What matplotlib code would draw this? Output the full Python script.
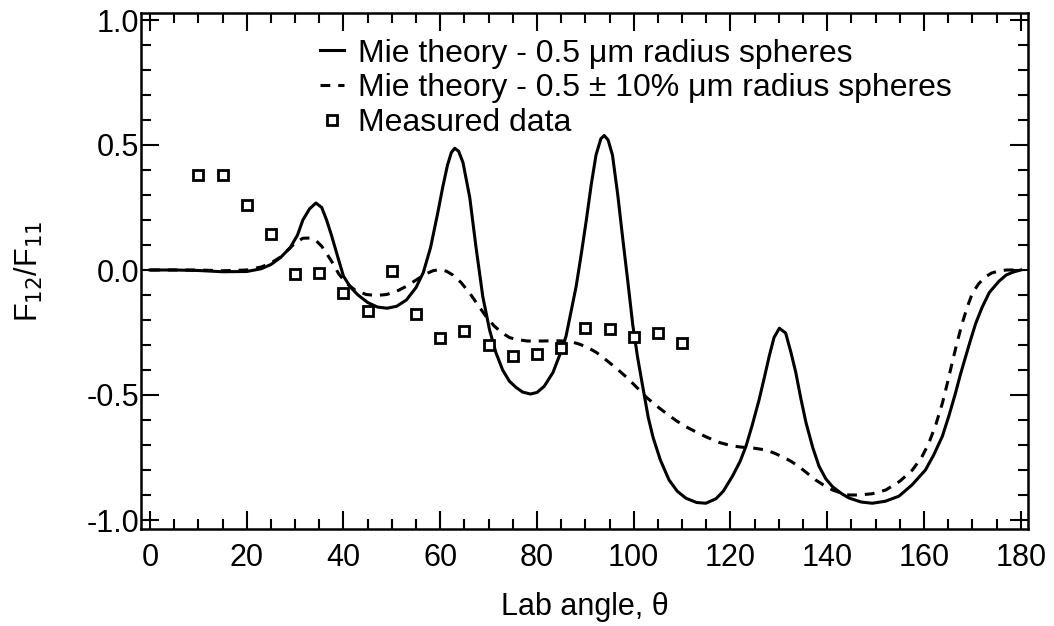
import matplotlib
matplotlib.use("Agg")
import matplotlib.pyplot as plt
from matplotlib.ticker import MultipleLocator

plt.rcParams['font.family'] = ['Liberation Sans', 'DejaVu Sans']

# Mie theory - 0.5 um radius spheres (solid)
theta_solid = [0, 5, 10, 15, 20, 23, 25, 27, 29, 30.5, 31.6, 33, 34.3, 35.5, 36.5, 37.5,
               39, 40, 41.5, 43, 45, 47, 49, 51, 53, 55, 56.5, 58, 59.5, 60.5, 61.5, 62.3,
               63, 63.8, 64.7, 65.5, 66.1, 67.4, 68.8, 70.2, 71.5, 72.9, 74.3, 75.7, 77,
               78.6, 80, 81.5, 83.3, 84.7, 86, 87, 88.1, 89.2, 90.2, 91.2, 92.2, 93.2, 93.9,
               94.7, 95.6, 96.7, 97.7, 98.8, 99.8, 100.8, 101.8, 103, 104, 105.5, 107.3,
               109, 110.8, 113, 114.9, 117, 118.5, 120.4, 122, 123.2, 124.5, 125.9, 127,
               128, 129, 130.1, 131.4, 132.5, 133.5, 134.5, 135.6, 137, 138.3, 139.7, 141.1,
               143, 144.5, 147, 149.3, 152, 154.8, 157.5, 160.3, 162, 163.8, 165.2, 166.5,
               167.5, 168.6, 169.7, 170.7, 172, 173.5, 175.5, 177, 178.5, 180]
f_solid = [0, 0, -0.002, -0.007, -0.006, 0.005, 0.022, 0.05, 0.09, 0.14, 0.2, 0.245, 0.268,
           0.25, 0.2, 0.14, 0.04, -0.025, -0.07, -0.1, -0.13, -0.148, -0.153, -0.145, -0.12,
           -0.07, -0.01, 0.09, 0.23, 0.33, 0.42, 0.47, 0.487, 0.475, 0.43, 0.35, 0.29, 0.09,
           -0.107, -0.24, -0.33, -0.4, -0.445, -0.47, -0.488, -0.496, -0.49, -0.465, -0.41,
           -0.34, -0.265, -0.17, -0.065, 0.07, 0.2, 0.34, 0.46, 0.525, 0.538, 0.52, 0.46,
           0.3, 0.13, -0.05, -0.22, -0.35, -0.46, -0.59, -0.67, -0.76, -0.84, -0.885,
           -0.913, -0.93, -0.933, -0.915, -0.885, -0.825, -0.765, -0.705, -0.62, -0.52,
           -0.43, -0.345, -0.27, -0.233, -0.252, -0.33, -0.41, -0.51, -0.61, -0.71, -0.785,
           -0.835, -0.867, -0.895, -0.912, -0.928, -0.933, -0.925, -0.905, -0.86, -0.8,
           -0.74, -0.665, -0.58, -0.493, -0.42, -0.347, -0.275, -0.213, -0.15, -0.09,
           -0.045, -0.02, -0.008, 0]

# Mie theory - 0.5 +/- 10% um radius spheres (dashed)
theta_dash = [0, 10, 15, 20, 23, 25, 27, 28.5, 30, 31.6, 33, 34.3, 35.5, 36.7, 37.8, 39,
              40.6, 42.5, 44.7, 46.8, 48.9, 51, 53, 55, 57.1, 58.5, 59.9, 61.3, 62.6, 64.3,
              66.1, 67.8, 69.5, 71.2, 72.9, 74.3, 75.7, 78, 81, 84, 86.7, 88.5, 90.2, 92.3,
              94.3, 96.4, 98.4, 100.5, 102.5, 104.6, 106.7, 108.8, 110.8, 112.9, 114.9,
              117.7, 120, 122, 125, 127.3, 129, 130.7, 132.5, 134.2, 136, 137.6, 139.4,
              141.1, 143, 144.5, 146.6, 149.3, 152.1, 155, 157.6, 159.5, 161, 162.5, 163.8,
              164.8, 165.8, 166.8, 167.9, 169, 170, 171.3, 172.7, 174, 175.5, 177, 180]
f_dash = [0, 0, -0.003, 0.0, 0.012, 0.028, 0.052, 0.08, 0.108, 0.127, 0.128, 0.118, 0.095,
          0.06, 0.027, -0.015, -0.053, -0.082, -0.098, -0.102, -0.098, -0.085, -0.065,
          -0.04, -0.015, -0.003, 0.002, -0.005, -0.02, -0.05, -0.093, -0.14, -0.187,
          -0.225, -0.253, -0.27, -0.278, -0.284, -0.284, -0.283, -0.285, -0.295, -0.307,
          -0.33, -0.36, -0.393, -0.427, -0.467, -0.507, -0.542, -0.573, -0.603, -0.627,
          -0.648, -0.667, -0.69, -0.702, -0.708, -0.713, -0.72, -0.732, -0.747, -0.765,
          -0.787, -0.815, -0.84, -0.862, -0.88, -0.893, -0.9, -0.9, -0.895, -0.88, -0.845,
          -0.8, -0.75, -0.693, -0.615, -0.533, -0.455, -0.373, -0.293, -0.213, -0.145,
          -0.093, -0.055, -0.027, -0.012, -0.004, 0, 0]

# Measured data
theta_meas = [10, 15, 20, 25, 30, 35, 40, 45, 50, 55, 60, 65, 70, 75, 80, 85, 90, 95, 100, 105, 110]
f_meas = [0.38, 0.38, 0.26, 0.143, -0.017, -0.013, -0.093, -0.163, -0.004, -0.176, -0.273,
          -0.243, -0.3, -0.344, -0.336, -0.311, -0.231, -0.236, -0.267, -0.251, -0.292]

labels = ['Mie theory - 0.5 μm radius spheres',
          'Mie theory - 0.5 ± 10% μm radius spheres',
          'Measured data']

fig = plt.figure(figsize=(10.54, 6.26), dpi=100)
ax = fig.add_axes([141/1054, 1-529/626, (1028-141)/1054, (529-13)/626])

ax.plot(theta_solid, f_solid, color='black', lw=2.2, label=labels[0])
ax.plot(theta_dash, f_dash, color='black', lw=2.2, ls=(0, (3.2, 2.6)), label=labels[1])
ax.plot(theta_meas, f_meas, ls='none', marker='s', ms=7.5, mfc='white', mec='black',
        mew=2.0, label=labels[2])

ax.set_xlim(-1.86, 181.5)
ax.set_ylim(-1.036, 1.028)
ax.xaxis.set_major_locator(MultipleLocator(20))
ax.xaxis.set_minor_locator(MultipleLocator(5))
ax.yaxis.set_major_locator(MultipleLocator(0.5))
ax.yaxis.set_minor_locator(MultipleLocator(0.1))
ax.set_yticks([-1.0, -0.5, 0.0, 0.5, 1.0])
ax.set_yticklabels(['-1.0', '-0.5', '0.0', '0.5', '1.0'])
ax.tick_params(which='both', direction='in', top=True, right=True, labelsize=22,
               width=1.5, color='black')
ax.tick_params(which='major', length=13)
ax.tick_params(which='minor', length=7)
ax.tick_params(axis='x', which='major', pad=10)
ax.tick_params(axis='y', which='major', pad=1)
for s in ax.spines.values():
    s.set_linewidth(1.8)

ax.set_xlabel('Lab angle, θ', fontsize=22)
ax.set_ylabel('F$_{12}$/F$_{11}$', fontsize=22)
ax.xaxis.set_label_coords(0.5, -0.122)
ax.yaxis.set_label_coords(-0.108, 0.5)

leg = ax.legend(loc='upper left', bbox_to_anchor=(0.173, 1.0), frameon=False, fontsize=23,
                handlelength=0.75, handletextpad=0.45, labelspacing=0.15, borderpad=0.3)

fig.savefig('out.png', dpi=100)
